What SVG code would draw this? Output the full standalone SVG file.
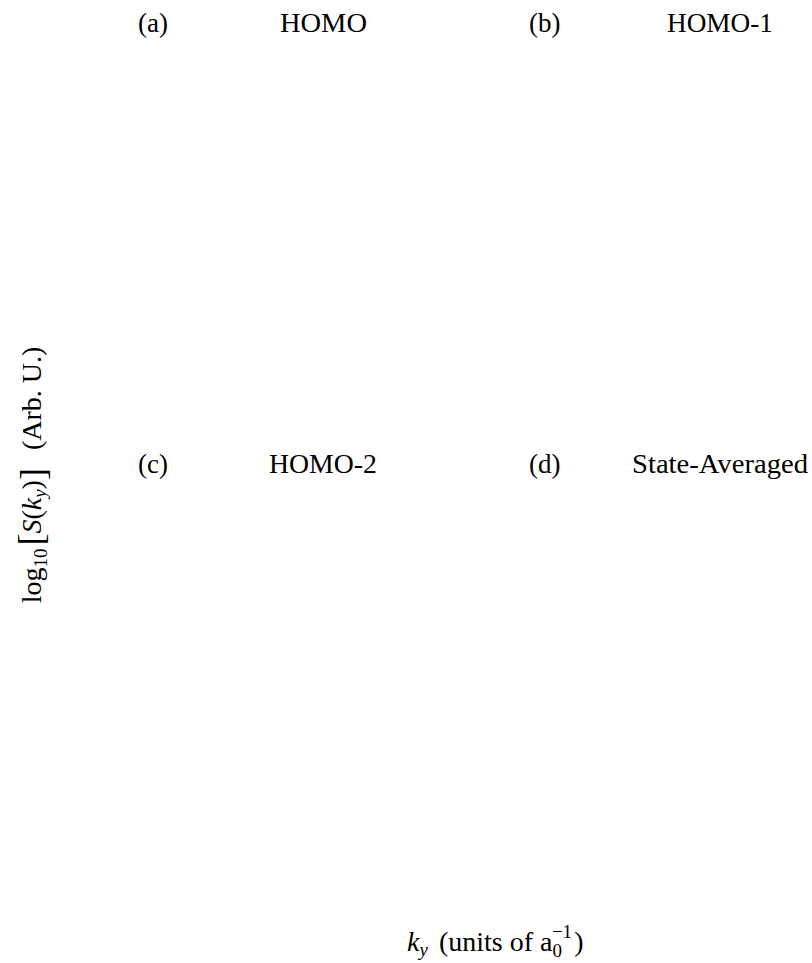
<svg xmlns="http://www.w3.org/2000/svg" width="812" height="963" viewBox="0 0 812 963">
<style>
text { font-family: "Liberation Serif", "DejaVu Serif", serif; font-size: 27px; fill: #000; }
.lbl { font-size: 28px; }
.it { font-style: italic; }
.sub { font-size: 19px; }
.big { font-size: 36px; }
</style>
<rect width="812" height="963" fill="#fff"/>
<g id="panel-a">
<text x="138" y="32">(a)</text>
<text x="280" y="32" textLength="87" lengthAdjust="spacingAndGlyphs">HOMO</text>
</g>
<g id="panel-b">
<text x="529" y="32">(b)</text>
<text x="667" y="32" textLength="106" lengthAdjust="spacingAndGlyphs">HOMO-1</text>
</g>
<g id="panel-c">
<text x="138" y="473">(c)</text>
<text x="269" y="473" textLength="108" lengthAdjust="spacingAndGlyphs">HOMO-2</text>
</g>
<g id="panel-d">
<text x="529" y="473">(d)</text>
<text x="632" y="473" textLength="176" lengthAdjust="spacingAndGlyphs">State-Averaged</text>
</g>
<g id="x-label">
<text class="lbl" x="407" y="951"><tspan class="it">k</tspan><tspan class="it sub" dy="5">y</tspan><tspan dy="-5" dx="4"> (units of a</tspan><tspan class="sub" dy="6">0</tspan><tspan class="sub" dx="-10" dy="-19">−1</tspan><tspan dy="13" dx="2">)</tspan></text>
</g>
<g id="y-label">
<text class="lbl" transform="translate(41,475) rotate(-90)" text-anchor="middle">log<tspan class="sub" dy="6">10</tspan><tspan class="big" dy="-4" dx="3">[</tspan><tspan class="it" dy="-2">S</tspan>(<tspan class="it">k</tspan><tspan class="it sub" dy="5">y</tspan><tspan dy="-5">)</tspan><tspan class="big" dy="4">]</tspan><tspan dy="-4" dx="18">(Arb. U.)</tspan></text>
</g>
</svg>
